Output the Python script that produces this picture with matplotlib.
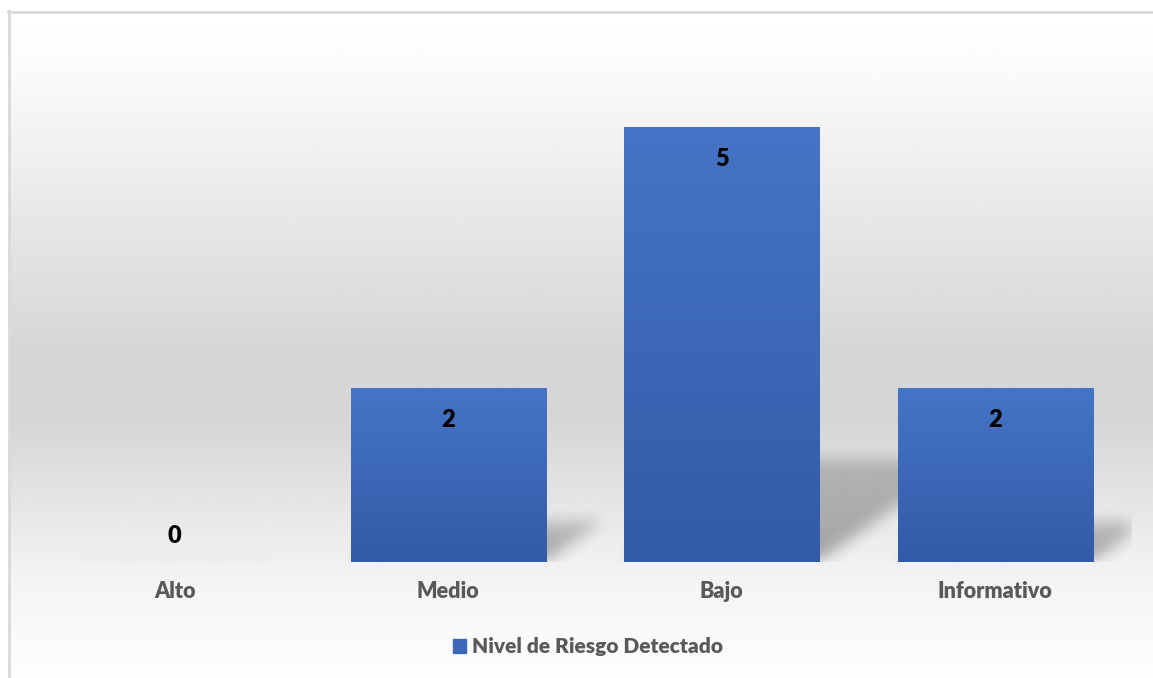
import numpy as np
import matplotlib.pyplot as plt
from matplotlib.colors import LinearSegmentedColormap
from matplotlib.lines import Line2D

categories = ["Alto", "Medio", "Bajo", "Informativo"]
values = [0, 2, 5, 2]
series_name = "Nivel de Riesgo Detectado"

FONT = "Lato"
BAR_TOP = "#4674c6"
BAR_BOTTOM = "#315ba7"
TEXT_GRAY = "#595959"
W_PX, H_PX = 1153, 678


def box_blur(img, r):
    """Simple separable box blur, applied twice for a softer edge."""
    k = np.ones(2 * r + 1) / (2 * r + 1)
    for _ in range(2):
        img = np.apply_along_axis(lambda m: np.convolve(m, k, mode="same"), 0, img)
        img = np.apply_along_axis(lambda m: np.convolve(m, k, mode="same"), 1, img)
    return img


fig = plt.figure(figsize=(W_PX / 100, H_PX / 100), dpi=100)

# background: chart area with vertical gray gradient and light frame
bg = fig.add_axes([0, 0, 1, 1], zorder=0)
bg.set_xlim(0, W_PX)
bg.set_ylim(H_PX, 0)
bg.axis("off")
yy = np.linspace(0, 1, 300)
shade = np.interp(yy, [0.0, 0.08, 0.52, 0.62, 0.85, 1.0], [1.0, 0.985, 0.835, 0.84, 0.955, 0.995])
bg.imshow(np.repeat(shade[:, None], 2, axis=1), cmap="gray", vmin=0, vmax=1,
          extent=(9, W_PX, H_PX, 12), aspect="auto", interpolation="bilinear")
bg.add_line(Line2D([8.5, 8.5], [11, H_PX], color="#d9d9d9", lw=2))
bg.add_line(Line2D([8, W_PX], [11.5, 11.5], color="#d9d9d9", lw=2))

# main plot area
ax = fig.add_axes([38 / W_PX, 116 / H_PX, 1094 / W_PX, 522 / H_PX], zorder=1)
ax.set_facecolor("none")
ax.axis("off")

x = np.arange(len(categories))
width = 0.713

# soft perspective shadows behind the bars
gx = np.linspace(-0.5, len(categories) - 0.5, 1094)
gy = np.linspace(0, 6, 522)
GX, GY = np.meshgrid(gx, gy)
shadow = np.zeros_like(GX)
for xi, v in zip(x, values):
    h = max(v * 0.235, 0.03)
    dx = 0.105 * v
    t = GY / h
    inside = (t <= 1) & (GX >= xi - width / 2 + t * dx) & (GX <= xi + width / 2 + t * dx)
    strength = 0.32 if v > 0 else 0.12
    shadow = np.maximum(shadow, inside * strength * (1 - 0.4 * np.clip(t, 0, 1)))
shadow = box_blur(shadow, 8)
rgba = np.zeros(shadow.shape + (4,))
rgba[..., 3] = shadow
ax.imshow(rgba, extent=(-0.5, len(categories) - 0.5, 0, 6), origin="lower",
          aspect="auto", zorder=1, interpolation="bilinear")

# bars with vertical gradient
bars = ax.bar(x, values, width=width, color=BAR_TOP, zorder=2)
cmap = LinearSegmentedColormap.from_list("bar", [BAR_BOTTOM, BAR_TOP])
grad = np.linspace(0, 1, 256)[:, None]
for rect, v in zip(bars, values):
    if v <= 0:
        continue
    x0 = rect.get_x()
    ax.imshow(grad, cmap=cmap, extent=(x0, x0 + rect.get_width(), 0, v),
              origin="lower", aspect="auto", zorder=3)

ax.set_xlim(-0.5, len(categories) - 0.5)
ax.set_ylim(0, 6)

# data labels
for xi, v in zip(x, values):
    ly = v - 0.37 if v > 0 else 0.3
    ax.text(xi, ly, str(v), ha="center", va="center", fontsize=17,
            fontweight="heavy", family=FONT, color="black", zorder=4)

# category labels
for xi, cat in zip(x, categories):
    ax.text(xi, -30 / 87, cat, ha="center", va="center", fontsize=15.5,
            fontweight="heavy", family=FONT, color=TEXT_GRAY, clip_on=False)

handle = plt.Rectangle((0, 0), 1, 1, color="#3d68b8")
fig.legend([handle], [series_name], loc="center", bbox_to_anchor=(588 / W_PX, 31 / H_PX),
           frameon=False, handlelength=0.65, handleheight=0.65, handletextpad=0.3,
           prop={"family": FONT, "weight": "heavy", "size": 15}, labelcolor=TEXT_GRAY)

fig.savefig("out.png", dpi=100)
